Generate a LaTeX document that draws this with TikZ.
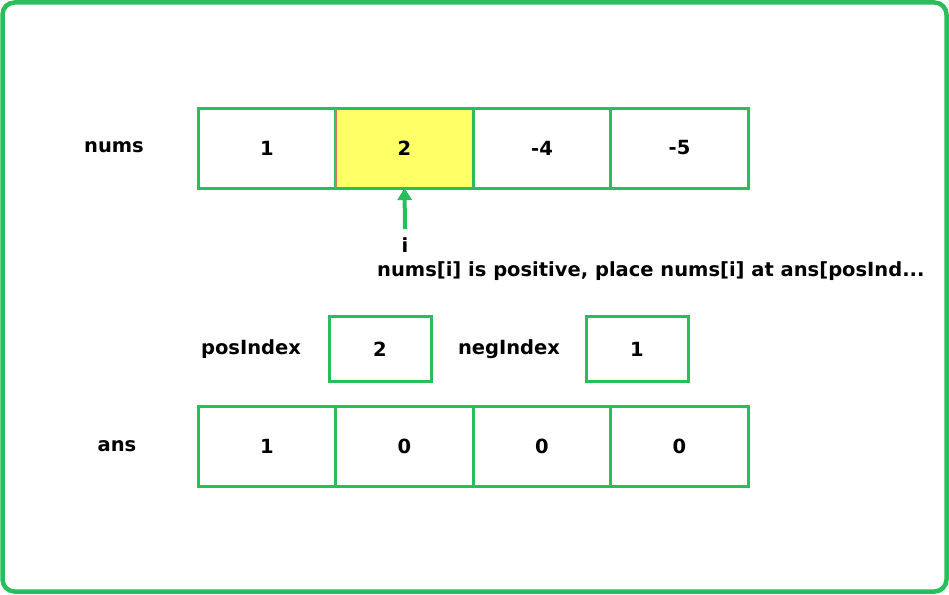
\documentclass[tikz,border=0pt]{standalone}
\usepackage{fontspec}
\setmainfont{DejaVu Sans}
\usetikzlibrary{positioning, arrows.meta}

\definecolor{cellgreen}{RGB}{40,190,90}
\definecolor{hiyellow}{RGB}{255,255,102}
\definecolor{hired}{RGB}{220,120,90}

\tikzset{
  cell/.style={draw=cellgreen, line width=3pt, minimum width=137.5pt, minimum height=80pt,
    inner sep=0pt, outer sep=0pt, font=\bfseries\fontsize{19.5}{22}\selectfont},
  hicell/.style={cell, fill=hiyellow, draw=hired, line width=1.5pt},
  idxbox/.style={cell, minimum width=102pt, minimum height=65pt},
  lbl/.style={font=\bfseries\fontsize{19.5}{22}\selectfont, inner sep=0pt}
}

\begin{document}
\begin{tikzpicture}[x=1pt, y=-1pt]
  \useasboundingbox (0,0) rectangle (949,594);
  \draw[cellgreen, line width=4.5pt, rounded corners=12pt] (2.5,2.5) rectangle (946.5,591.5);

  % nums row
  \node[lbl] (numsl) at (114,147) {nums};
  \node[cell] (n0) at (267,148) {1};
  \node[hicell, right=0pt of n0] (n1) {2};
  \node[cell, right=0pt of n1] (n2) {-4};
  \node[cell, right=0pt of n2] (n3) {-5};
  \draw[cellgreen, line width=3pt] (n1.north west) -- (n1.north east)
    (n1.south west) -- (n1.south east);

  % pointer
  \coordinate (iarr) at (405,229);
  \draw[cellgreen, line width=4pt, -{Triangle[length=12pt, width=14pt]}] (iarr) -- (n1.south);
  \node[lbl] (il) at (405,245) {i};
  \node[lbl, anchor=west] (msg) at (377,271) {nums[i] is positive, place nums[i] at ans[posInd...};

  % indices
  \node[lbl] (posl) at (251,349) {posIndex};
  \node[idxbox] (pos) at (380,349) {2};
  \node[lbl] (negl) at (509,349) {negIndex};
  \node[idxbox] (neg) at (637,349) {1};

  % ans row
  \node[lbl] (ansl) at (117,446) {ans};
  \node[cell] (a0) at (267,446) {1};
  \node[cell, right=0pt of a0] (a1) {0};
  \node[cell, right=0pt of a1] (a2) {0};
  \node[cell, right=0pt of a2] (a3) {0};
\end{tikzpicture}
\end{document}
